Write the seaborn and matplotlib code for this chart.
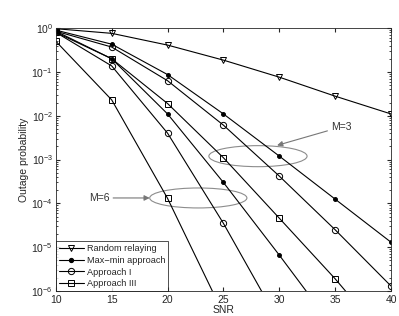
import numpy as np
import pandas as pd
import seaborn as sns
import matplotlib.pyplot as plt
from matplotlib.patches import Ellipse
from matplotlib.lines import Line2D

### values
snr = [10, 15, 20, 25, 30, 35, 40]
random_relaying = [0.97, 0.76, 0.41, 0.186, 0.076, 0.028, 0.011]

# M=3
maxmin_m3 = [0.9, 0.43, 0.087, 0.011, 1.2e-3, 1.25e-4, 1.3e-5]
approach1_m3 = [0.85, 0.37, 0.063, 6.1e-3, 4.2e-4, 2.5e-5, 1.3e-6]
approach3_m3 = [0.8, 0.2, 0.019, 1.1e-3, 4.6e-5, 1.9e-6, 6e-8]

# M=6 (last value is where the line runs off the bottom)
maxmin_m6 = [0.85, 0.2, 0.011, 3.0e-4, 6.6e-6, 1.3e-7]
approach1_m6 = [0.8, 0.137, 4e-3, 3.5e-5, 1.9e-7]
approach3_m6 = [0.5, 0.023, 1.3e-4, 3e-7]

sns.set_style("ticks")
plt.rcParams["font.family"] = ["Liberation Sans", "DejaVu Sans"]
plt.rcParams["mathtext.fontset"] = "custom"
plt.rcParams["mathtext.rm"] = "Liberation Sans"
plt.rcParams["mathtext.it"] = "Liberation Sans"
plt.rcParams["font.size"] = 7
plt.rcParams["xtick.direction"] = "in"
plt.rcParams["ytick.direction"] = "in"

fig = plt.figure(figsize=(3.99, 3.16), dpi=100)
ax = fig.add_axes([0.140, 0.079, 0.840, 0.832])

series = [
    (random_relaying, "v", "none", 4.5),
    (maxmin_m3, "o", "black", 2.8),
    (approach1_m3, "o", "none", 4.5),
    (approach3_m3, "s", "none", 4),
    (maxmin_m6, "o", "black", 2.8),
    (approach1_m6, "o", "none", 4.5),
    (approach3_m6, "s", "none", 4),
]
for vals, mk, fc, ms in series:
    df = pd.DataFrame({"snr": snr[:len(vals)], "p": vals})
    sns.lineplot(data=df, x="snr", y="p", ax=ax, color="black", linewidth=0.8,
                 marker=mk, markersize=ms, markerfacecolor=fc,
                 markeredgecolor="black", markeredgewidth=0.7)

ax.set_yscale("log")
ax.set_xlim(10, 40)
ax.set_ylim(1e-6, 1)
ax.set_xticks([10, 15, 20, 25, 30, 35, 40])
ax.tick_params(which="both", top=True, right=True, labelsize=7.5)
ax.tick_params(axis="x", pad=3)
ax.tick_params(axis="y", pad=2)
ax.tick_params(which="major", length=3)
ax.tick_params(which="minor", length=1.5)
for s in ax.spines.values():
    s.set_linewidth(0.6)
ax.set_xlabel("SNR", fontsize=7.5, labelpad=0)
ax.set_ylabel("Outage probability", fontsize=7.5, labelpad=2)

### ellipses and labels
ax.add_patch(Ellipse((0.603, 0.513), 0.293, 0.08, transform=ax.transAxes,
                     fill=False, edgecolor="#8c8c8c", linewidth=0.8))
ax.add_patch(Ellipse((0.425, 0.354), 0.29, 0.076, transform=ax.transAxes,
                     fill=False, edgecolor="#8c8c8c", linewidth=0.8))
ax.annotate("M=3", xy=(0.66, 0.554), xytext=(0.82, 0.624),
            xycoords="axes fraction", textcoords="axes fraction",
            fontsize=7.5, color="#333333", va="center", ha="left",
            arrowprops=dict(arrowstyle="-|>", color="#777777", lw=0.8,
                            shrinkA=0, shrinkB=0, mutation_scale=8))
ax.annotate("M=6", xy=(0.28, 0.354), xytext=(0.10, 0.354),
            xycoords="axes fraction", textcoords="axes fraction",
            fontsize=7.5, color="#333333", va="center", ha="left",
            arrowprops=dict(arrowstyle="-|>", color="#777777", lw=0.8,
                            shrinkA=0, shrinkB=0, mutation_scale=8))

handles = [
    Line2D([], [], color="black", lw=0.8, marker="v", markersize=4.5, markerfacecolor="none", markeredgewidth=0.7),
    Line2D([], [], color="black", lw=0.8, marker="o", markersize=2.8, markerfacecolor="black"),
    Line2D([], [], color="black", lw=0.8, marker="o", markersize=4.5, markerfacecolor="none", markeredgewidth=0.7),
    Line2D([], [], color="black", lw=0.8, marker="s", markersize=4, markerfacecolor="none", markeredgewidth=0.7),
]
labels = ["Random relaying", "Max\u2212min approach", "Approach I", "Approach III"]
leg = ax.legend(handles, labels, loc="lower left", fontsize=6.6, frameon=True,
                fancybox=False, borderaxespad=0, borderpad=0.3, labelspacing=0.3,
                handlelength=2.8, handletextpad=0.3)
leg.get_frame().set_edgecolor("black")
leg.get_frame().set_linewidth(0.6)

fig.savefig("out.png", dpi=100)
